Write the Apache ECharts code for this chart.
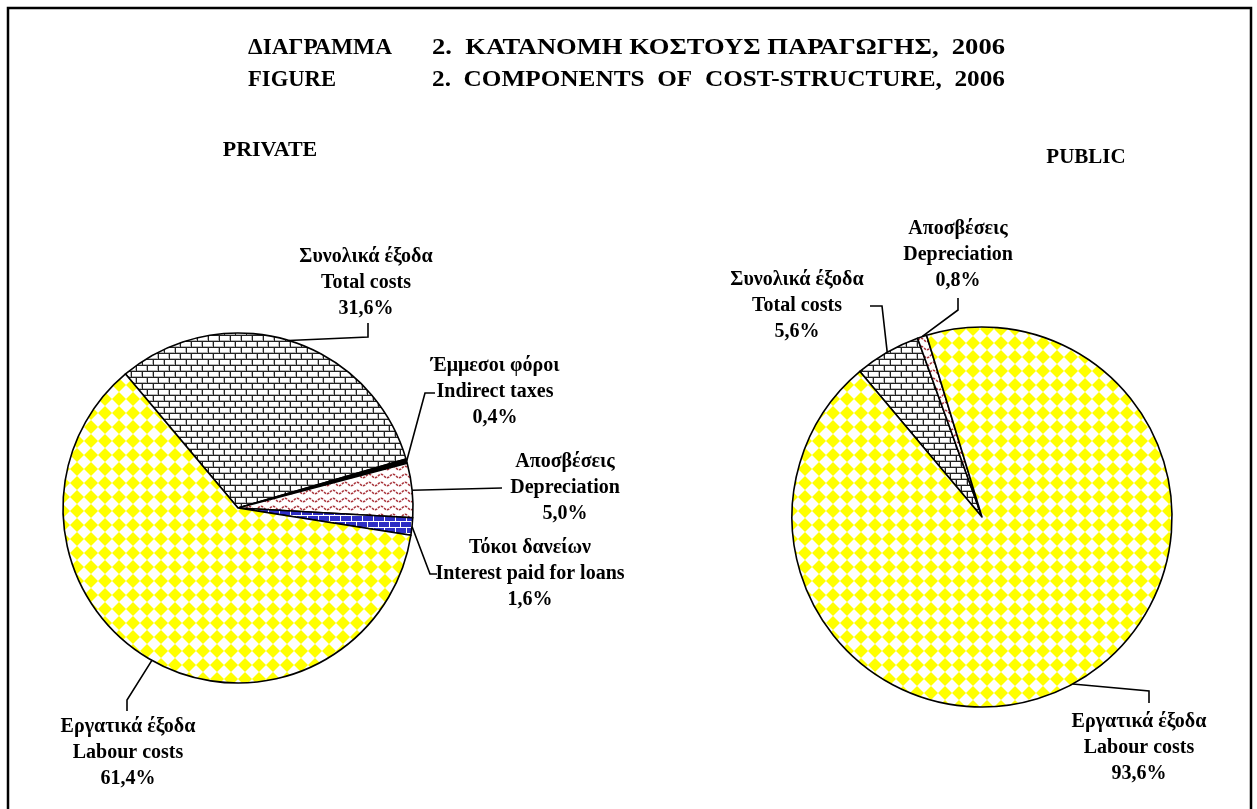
<!DOCTYPE html>
<html lang="el">
<head>
    <meta charset="UTF-8">
    <title>cost structure 2006</title>
    <script src="https://cdn.jsdelivr.net/npm/echarts@6/dist/echarts.min.js"></script>
    <style>
        html, body { margin: 0; padding: 0; background: #fff; }
        #main { width: 1257px; height: 809px; }
    </style>
</head>
<body>
<div id="main"></div>
<script>
    // data
    var privateNamesGr = ['Συνολικά έξοδα', 'Έμμεσοι φόροι', 'Αποσβέσεις', 'Τόκοι δανείων', 'Εργατικά έξοδα'];
    var privateNamesEn = ['Total costs', 'Indirect taxes', 'Depreciation', 'Interest paid for loans', 'Labour costs'];
    var privateValues = [31.6, 0.4, 5.0, 1.6, 61.4];

    var publicNamesGr = ['Συνολικά έξοδα', 'Αποσβέσεις', 'Εργατικά έξοδα'];
    var publicNamesEn = ['Total costs', 'Depreciation', 'Labour costs'];
    var publicValues = [5.6, 0.8, 93.6];

    var FONT = 'Liberation Serif';

    // label anchors + leader elbows (layout only)
    var privateLabelPos = [
        {x: 366, y: 283, line: [[368, 337], [368, 323]]},
        {x: 495, y: 392, line: [[425, 393], [435, 393]]},
        {x: 565, y: 488, line: [[502, 488]]},
        {x: 530, y: 574, line: [[430, 574], [437, 574]]},
        {x: 128, y: 753, line: [[127, 700], [127, 711]]}
    ];
    var publicLabelPos = [
        {x: 797, y: 306, line: [[882, 306], [870, 306]]},
        {x: 958, y: 255, line: [[958, 310], [958, 298]]},
        {x: 1139, y: 748, line: [[1149, 691], [1149, 703]]}
    ];

    // title pieces: [text, left x, right x, line y]
    var titleParts = [
        ['ΔΙΑΓΡΑΜΜΑ', 248, 392, 48],
        ['2.  ΚΑΤΑΝΟΜΗ ΚΟΣΤΟΥΣ ΠΑΡΑΓΩΓΗΣ,  2006', 432, 1005, 48],
        ['FIGURE', 248, 336, 80],
        ['2.  COMPONENTS  OF  COST-STRUCTURE,  2006', 432, 1005, 80]
    ];

    // ---- fill patterns (excel-like hatches) ----
    function makeCanvas(w, h) {
        var c = document.createElement('canvas');
        c.width = w;
        c.height = h;
        return c;
    }

    function diamondPattern() {
        var p = 14, c = makeCanvas(p, p), ctx = c.getContext('2d');
        ctx.fillStyle = '#fff';
        ctx.fillRect(0, 0, p, p);
        ctx.fillStyle = '#ffff00';
        ctx.beginPath();
        ctx.moveTo(p / 2, 0);
        ctx.lineTo(p, p / 2);
        ctx.lineTo(p / 2, p);
        ctx.lineTo(0, p / 2);
        ctx.closePath();
        ctx.fill();
        return c;
    }

    function brickPattern(mortar, brick, shade) {
        var w = 22, h = 12, c = makeCanvas(w, h), ctx = c.getContext('2d');
        ctx.fillStyle = mortar;
        ctx.fillRect(0, 0, w, h);
        function b(x, y) {
            ctx.fillStyle = shade || brick;
            ctx.fillRect(x, y, 10, 5);
            ctx.fillStyle = brick;
            ctx.fillRect(x, y, shade ? 9 : 10, shade ? 4 : 5);
        }
        b(0, 0); b(11, 0);
        b(-6, 6); b(5, 6); b(16, 6);
        return c;
    }

    function wavePattern() {
        var w = 12, h = 8, c = makeCanvas(w, h), ctx = c.getContext('2d');
        ctx.fillStyle = '#fff';
        ctx.fillRect(0, 0, w, h);
        ctx.strokeStyle = '#a8333a';
        ctx.lineWidth = 1.5;
        ctx.setLineDash([2.5, 1]);
        ctx.beginPath();
        for (var i = 0; i <= w; i++) {
            var yy = 4 + 1.8 * Math.sin(i / w * Math.PI * 2);
            if (i === 0) ctx.moveTo(i, yy); else ctx.lineTo(i, yy);
        }
        ctx.stroke();
        return c;
    }

    var fills = {
        'Total costs': {image: brickPattern('#222', '#fff', '#b8b8b8'), repeat: 'repeat'},
        'Indirect taxes': '#000',
        'Depreciation': {image: wavePattern(), repeat: 'repeat'},
        'Interest paid for loans': {image: brickPattern('#fff', '#2e2ec4'), repeat: 'repeat'},
        'Labour costs': {image: diamondPattern(), repeat: 'repeat'}
    };

    function buildData(gr, en, vals) {
        var res = [];
        for (var i = 0; i < vals.length; i++) {
            res.push({
                name: en[i],
                value: vals[i],
                gr: gr[i],
                itemStyle: {color: fills[en[i]]}
            });
        }
        return res;
    }

    function fmt(v) {
        return v.toFixed(1).replace('.', ',') + '%';
    }

    function makeLayout(pos) {
        return function (params) {
            var a = pos[params.dataIndex];
            var start = params.labelLinePoints ? params.labelLinePoints[0] : a.line[0];
            return {
                x: a.x,
                y: a.y,
                align: 'center',
                verticalAlign: 'middle',
                labelLinePoints: [start].concat(a.line)
            };
        };
    }

    function pieSeries(name, center, radius, data, pos) {
        return {
            name: name,
            type: 'pie',
            center: center,
            radius: radius,
            startAngle: 130,
            clockwise: true,
            avoidLabelOverlap: false,
            silent: true,
            animation: false,
            data: data,
            itemStyle: {borderColor: '#000', borderWidth: 1.6},
            label: {
                show: true,
                position: 'outside',
                formatter: function (p) {
                    return p.data.gr + '\n' + p.name + '\n' + fmt(p.value);
                },
                fontFamily: FONT,
                fontWeight: 'bold',
                fontSize: 20,
                lineHeight: 26,
                color: '#000',
                align: 'center'
            },
            labelLine: {
                show: true,
                lineStyle: {color: '#000', width: 1.6}
            },
            labelLayout: makeLayout(pos)
        };
    }

    var myChart = echarts.init(document.getElementById('main'), null, {renderer: 'canvas'});

    // the original title face is a bit wider than Liberation Serif, so stretch it to span
    var titleFont = 'bold 23px "' + FONT + '"';
    var measureCtx = makeCanvas(10, 10).getContext('2d');
    measureCtx.font = titleFont;

    var graphics = [
        {type: 'rect', shape: {x: 8, y: 8, width: 1243, height: 830},
            style: {fill: 'none', stroke: '#000', lineWidth: 2.5}, silent: true}
    ];
    titleParts.forEach(function (t) {
        var w = measureCtx.measureText(t[0]).width;
        graphics.push({type: 'text', x: t[1], y: t[3], scaleX: (t[2] - t[1]) / w,
            style: {text: t[0], font: titleFont, fill: '#000', verticalAlign: 'middle'}});
    });
    graphics.push({type: 'text', x: 270, y: 150, style: {text: 'PRIVATE', font: 'bold 22px "' + FONT + '"', fill: '#000', align: 'center', verticalAlign: 'middle'}});
    graphics.push({type: 'text', x: 1086, y: 158, style: {text: 'PUBLIC', font: 'bold 21px "' + FONT + '"', fill: '#000', align: 'center', verticalAlign: 'middle'}});

    var option = {
        backgroundColor: '#fff',
        animation: false,
        graphic: graphics,
        series: [
            pieSeries('PRIVATE', [238, 508], 175, buildData(privateNamesGr, privateNamesEn, privateValues), privateLabelPos),
            pieSeries('PUBLIC', [982, 517], 190, buildData(publicNamesGr, publicNamesEn, publicValues), publicLabelPos)
        ]
    };

    myChart.setOption(option);
</script>
</body>
</html>
